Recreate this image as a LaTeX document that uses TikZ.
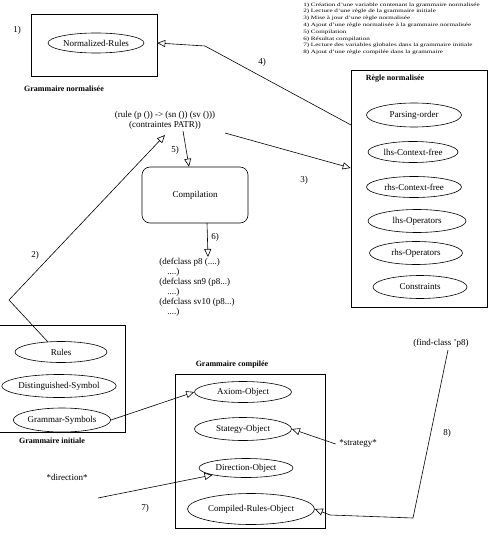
\documentclass[tikz,border=0pt]{standalone}
\usepackage{fontspec}
\setmainfont{Liberation Serif}
\usetikzlibrary{shapes.geometric,arrows.meta}
\begin{document}
\begin{tikzpicture}[x=1pt,y=-1pt,
  el/.style={draw,ellipse,inner sep=0pt,font=\fontsize{9}{10}\selectfont},
  box/.style={draw,rectangle,inner sep=0pt},
  ttl/.style={font=\bfseries\fontsize{8}{9}\selectfont},
  lbl/.style={font=\fontsize{9}{10}\selectfont},
  code/.style={font=\fontsize{9}{10}\selectfont,align=left,anchor=north west,inner sep=0pt},
  arr/.style={-{Triangle[open,length=8pt,width=7pt]}},
  line width=0.6pt]
\useasboundingbox (0,0) rectangle (490,540);

% legend
\node[anchor=north west,inner sep=0pt,font=\fontsize{5}{6.8}\selectfont] (legend) at (303,1)
{\scalebox{1.42}[1]{\begin{tabular}{@{}l@{}}
1) Création d'une variable contenant la grammaire normalisée\\
2) Lecture d'une règle de la grammaire initiale\\
3) Mise à jour d'une règle normalisée\\
4) Ajout d'une règle normalisée à la grammaire normalisée\\
5) Compilation\\
6) Résultat compilation\\
7) Lecture des variables globales dans la grammaire initiale\\
8) Ajout d'une règle compilée dans la grammaire
\end{tabular}}};

% Grammaire normalisee
\node[lbl] (l1) at (17,30) {1)};
\node[box,minimum width=126pt,minimum height=62pt] (gn) at (94,45) {};
\node[el,minimum width=96pt,minimum height=20pt] (nr) at (96,43) {Normalized-Rules};
\node[ttl] (gnt) at (64,89) {Grammaire normalisée};

% Regle normalisee
\node[box,minimum width=136pt,minimum height=237pt] (rn) at (419,188.5) {};
\node[ttl] (rnt) at (395,79) {Règle normalisée};
\node[el,minimum width=95pt,minimum height=24pt] (po) at (414,115) {Parsing-order};
\node[el,minimum width=90pt,minimum height=21pt] (lcf) at (413,152) {lhs-Context-free};
\node[el,minimum width=95pt,minimum height=21pt] (rcf) at (414,187) {rhs-Context-free};
\node[el,minimum width=98pt,minimum height=23pt] (lop) at (417,221) {lhs-Operators};
\node[el,minimum width=93pt,minimum height=23pt] (rop) at (416,253) {rhs-Operators};
\node[el,minimum width=94pt,minimum height=23pt] (con) at (420,287) {Constraints};

% rule text
\node[lbl,align=center,inner sep=0pt] (rule) at (165,120) {(rule (p ()) -> (sn ()) (sv ()))\\(contraintes PATR))};

% compilation
\node[draw,rounded corners=8pt,minimum width=106pt,minimum height=56pt,font=\fontsize{9}{10}\selectfont] (comp) at (195,195) {Compilation};

% defclass
\node[code] (def) at (159,258) {(defclass p8 (....)\\\hspace{8pt}....)\\(defclass sn9 (p8...)\\\hspace{8pt}....)\\(defclass sv10 (p8...)\\\hspace{8pt}....)};

% Grammaire initiale
\node[box,minimum width=127pt,minimum height=107pt] (gi) at (61.5,378.5) {};
\node[el,minimum width=92pt,minimum height=21pt] (rules) at (61,352) {Rules};
\node[el,minimum width=112pt,minimum height=23pt] (ds) at (59,386) {Distinguished-Symbol};
\node[el,minimum width=95pt,minimum height=24pt] (gs) at (62,420) {Grammar-Symbols};
\node[ttl] (git) at (52,441) {Grammaire initiale};

% Grammaire compilee
\node[ttl] (gct) at (232,365) {Grammaire compilée};
\node[box,minimum width=150pt,minimum height=154pt] (gc) at (250,451) {};
\node[el,minimum width=97pt,minimum height=21pt] (ax) at (243,392) {Axiom-Object};
\node[el,minimum width=97pt,minimum height=23pt] (st) at (243,429) {Stategy-Object};
\node[el,minimum width=94pt,minimum height=19pt] (dir) at (246,468) {Direction-Object};
\node[el,minimum width=127pt,minimum height=31pt] (cro) at (251,509) {Compiled-Rules-Object};

% free texts
\node[lbl] (strat) at (358,444) {*strategy*};
\node[lbl] (direc) at (67,477) {*direction*};
\node[lbl] (find) at (441,343) {(find-class 'p8)};

% labels
\node[lbl] (l2) at (35,255) {2)};
\node[lbl] (l3) at (304,180) {3)};
\node[lbl] (l4) at (262,62) {4)};
\node[lbl] (l5) at (175,150) {5)};
\node[lbl] (l6) at (215,237) {6)};
\node[lbl] (l7) at (145,508) {7)};
\node[lbl] (l8) at (447,433) {8)};

% coordinates
\coordinate (c4a) at (351,125);
\coordinate (c4b) at (205,46);
\coordinate (c3a) at (225,133);
\coordinate (c2a) at (48,342);
\coordinate (c2b) at (9,300);
\coordinate (c2c) at (165,135);
\coordinate (c5a) at (183,131);
\coordinate (c6a) at (207,223);
\coordinate (c6b) at (208,257);
\coordinate (c7a) at (98,498);
\coordinate (c8a) at (448,350);
\coordinate (c8b) at (413,518);
\coordinate (c8c) at (330,515);

% connectors
\draw[arr] (c4a) -- (c4b) -- (gn.east |- nr);
\draw[arr] (c3a) -- (rn.west |- 0,168);
\draw[arr] (c2a) -- (c2b) -- (c2c);
\draw[arr] (c5a) -- (comp.north -| 189,0);
\draw[arr] (c6a) -- (c6b);
\draw[arr] (gs.east) -- (ax.west);
\draw[arr] (strat.west) -- (st.east);
\draw[arr] (c7a) -- (dir.south west);
\draw[arr] (c8a) -- (c8b) -- (c8c) -- (cro.east);
\end{tikzpicture}
\end{document}
